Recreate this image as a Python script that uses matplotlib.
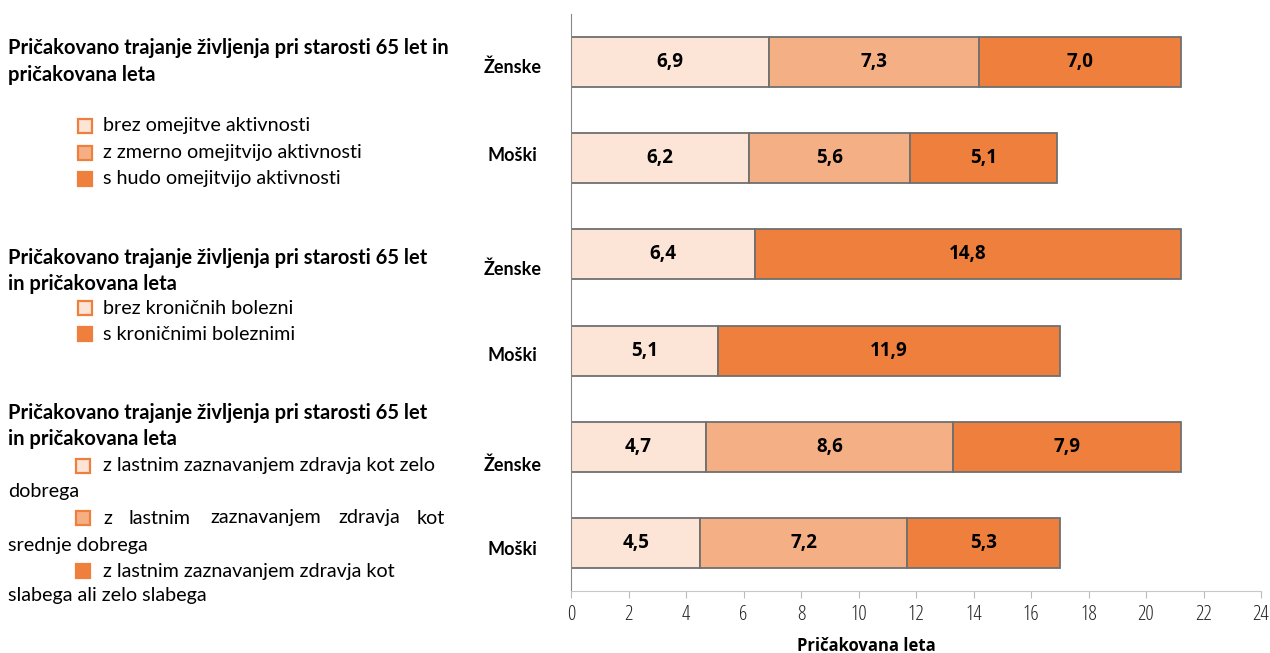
import matplotlib

matplotlib.use("Agg")
import matplotlib.pyplot as plt
import matplotlib.transforms as mtransforms
from matplotlib.patches import Rectangle

# rows from top to bottom
row_labels = ["Ženske", "Moški", "Ženske", "Moški", "Ženske", "Moški"]
seg_light = [6.9, 6.2, 6.4, 5.1, 4.7, 4.5]
seg_mid = [7.3, 5.6, 0.0, 0.0, 8.6, 7.2]
seg_dark = [7.0, 5.1, 14.8, 11.9, 7.9, 5.3]
x_ticks = list(range(0, 25, 2))
x_label = "Pričakovana leta"

heading = ["Pričakovano trajanje življenja pri starosti 65 let in",
           "pričakovana leta"]
heading_b = ["Pričakovano trajanje življenja pri starosti 65 let",
             "in pričakovana leta"]
legend_1 = ["brez omejitve aktivnosti", "z zmerno omejitvijo aktivnosti",
            "s hudo omejitvijo aktivnosti"]
legend_2 = ["brez kroničnih bolezni", "s kroničnimi boleznimi"]

C_LIGHT = "#FCE4D6"
C_MID = "#F4B084"
C_DARK = "#EF7F3C"
EDGE = "#707070"

NARROW = ["Open Sans", "DejaVu Sans"]
BODY = ["Lato", "DejaVu Sans"]

W, H = 1270, 653
fig = plt.figure(figsize=(W / 100, H / 100), dpi=100)
ax = fig.add_axes([571 / W, 1 - 591 / H, (1261 - 571) / W, (591 - 14) / H])

ypos = list(range(len(row_labels)))
bh = 0.52
left = [0.0] * len(ypos)
for vals, col in [(seg_light, C_LIGHT), (seg_mid, C_MID), (seg_dark, C_DARK)]:
    for i, v in enumerate(vals):
        if v <= 0:
            continue
        ax.barh(ypos[i], v, left=left[i], height=bh, color=col,
                edgecolor=EDGE, linewidth=1.3, zorder=2)
        ax.text(left[i] + v / 2, ypos[i], f"{v:.1f}".replace(".", ","),
                ha="center", va="center", fontsize=13.5, fontweight="bold",
                family=NARROW, fontstretch="condensed", zorder=3)
        left[i] += v

ax.set_ylim(len(ypos) - 0.5, -0.5)
ax.set_xlim(0, 24)
ax.set_xticks(x_ticks)
ax.set_xticklabels([str(t) for t in x_ticks], family=NARROW,
                   fontstretch="condensed", fontsize=15, color="#222222")
ax.set_yticks(ypos)
ax.set_yticklabels(row_labels, fontsize=13, fontweight="bold", family=BODY,
                   ha="center")
ax.tick_params(axis="y", length=0, pad=42)
ax.tick_params(axis="x", length=5, color="#bbbbbb", pad=5)
# the category labels sit a little off the bar centres in the original
label_shift = [4, -4, 13, 3, 17, 5]
for lab, dy in zip(ax.get_yticklabels(), label_shift):
    lab.set_transform(lab.get_transform() +
                      mtransforms.ScaledTranslation(0, -dy / 100, fig.dpi_scale_trans))
for s in ["top", "right"]:
    ax.spines[s].set_visible(False)
ax.spines["left"].set_color("#888888")
ax.spines["bottom"].set_color("#c8c8c8")
ax.set_xlabel(x_label, fontsize=12, fontweight="bold", family=NARROW,
              fontstretch="condensed")
ax.xaxis.set_label_coords((866 - 571) / 690, -(637 - 591) / 577)


def fy(py):
    return 1 - py / H


def ftext(px, py, s, bold=False, size=14.2):
    fig.text(px / W, fy(py), s, ha="left", va="center",
             fontsize=14.5 if bold else size,
             fontweight="bold" if bold else "normal", family=BODY)


def fbox(px, py, col):
    s = 14
    fig.add_artist(Rectangle(((px) / W, fy(py + s / 2)), s / W, s / H,
                             transform=fig.transFigure, facecolor=col,
                             edgecolor="#EF7F3C", linewidth=1.6))


# block 1
ftext(8, 48, heading[0], bold=True)
ftext(8, 75, heading[1], bold=True)
for py, col, s in zip([126, 153, 179], [C_LIGHT, C_MID, C_DARK], legend_1):
    fbox(78, py, col)
    ftext(103, py, s)

# block 2
ftext(8, 258, heading_b[0], bold=True)
ftext(8, 284, heading_b[1], bold=True)
for py, col, s in zip([308, 334], [C_LIGHT, C_DARK], legend_2):
    fbox(78, py, col)
    ftext(103, py, s)

# block 3
ftext(8, 413, heading_b[0], bold=True)
ftext(8, 439, heading_b[1], bold=True)
fbox(76, 466, C_LIGHT)
ftext(103, 466, "z lastnim zaznavanjem zdravja kot zelo")
ftext(8, 492, "dobrega")
fbox(76, 518, C_MID)
for px, w in zip([103, 129, 210, 338, 417],
                 ["z", "lastnim", "zaznavanjem", "zdravja", "kot"]):
    ftext(px, 518, w)
ftext(8, 545, "srednje dobrega")
fbox(76, 571, C_DARK)
ftext(103, 571, "z lastnim zaznavanjem zdravja kot")
ftext(8, 596, "slabega ali zelo slabega")

fig.savefig("out.png", dpi=100)
